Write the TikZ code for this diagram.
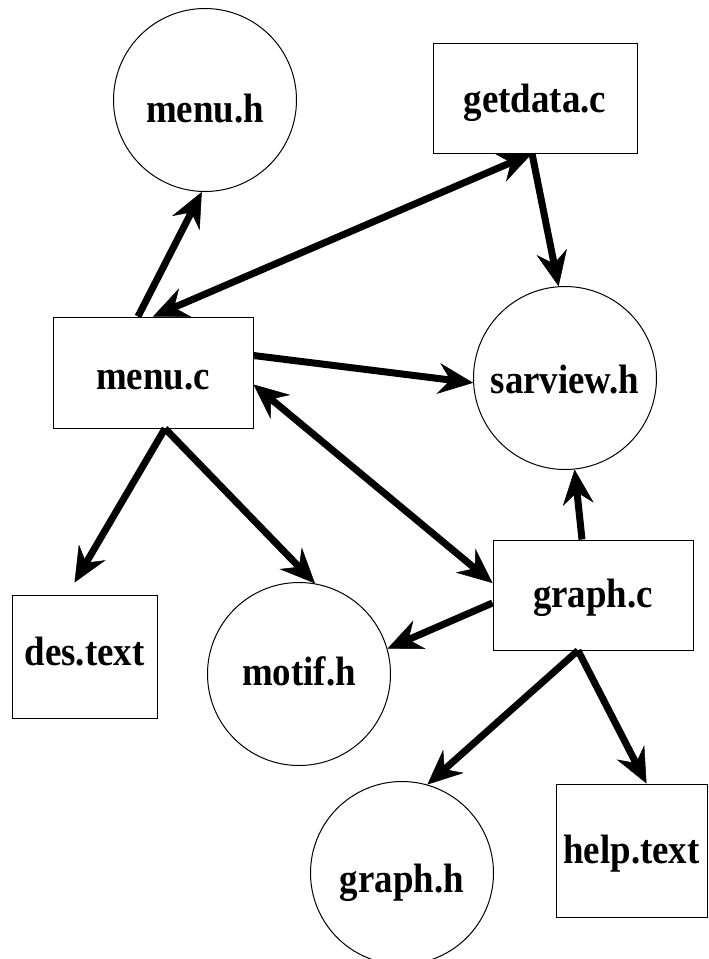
\documentclass[tikz,border=0pt]{standalone}
\usepackage{fontspec}
\setmainfont{Liberation Serif}
\newfontfamily\namefont{Liberation Serif}[FakeStretch=0.9]
\usetikzlibrary{arrows.meta}
\begin{document}
\begin{tikzpicture}[x=1pt,y=-1pt,
  >={Stealth[length=35pt,width=31pt,inset=12pt,line width=0.5pt]},
  srcfile/.style={draw, line width=1pt, rectangle, inner sep=0pt},
  hdrfile/.style={draw, line width=1pt, circle, inner sep=0pt, minimum size=183pt},
  lbl/.style={anchor=base, inner sep=0pt, font=\namefont\fontsize{41}{43}\selectfont\bfseries},
  dep/.style={line width=7pt, ->},
  mutual/.style={line width=7pt, <->}
]
\useasboundingbox (0,0) rectangle (709,959);

% files
\node[hdrfile] (menuh) at (205,100) {};
\node[srcfile, minimum width=204pt, minimum height=110pt] (getdata) at (535,98) {};
\node[srcfile, minimum width=200pt, minimum height=111pt] (menuc) at (153,372.5) {};
\node[hdrfile] (sarview) at (565,378) {};
\node[srcfile, minimum width=145pt, minimum height=123pt] (destext) at (84.5,656.5) {};
\node[hdrfile] (motif) at (299,674) {};
\node[srcfile, minimum width=200pt, minimum height=110pt] (graphc) at (593,595) {};
\node[hdrfile] (graphh) at (402,873) {};
\node[srcfile, minimum width=151pt, minimum height=133pt] (helptext) at (631.5,850.5) {};

% file names
\node[lbl] (menuh-t) at ([yshift=-22pt]menuh.center) {menu.h};
\node[lbl] (getdata-t) at ([yshift=-14pt]getdata.center) {getdata.c};
\node[lbl] (menuc-t) at ([yshift=-17pt]menuc.center) {menu.c};
\node[lbl] (sarview-t) at ([yshift=-15pt]sarview.center) {sarview.h};
\node[lbl] (destext-t) at ([yshift=-9pt]destext.center) {des.text};
\node[lbl] (motif-t) at ([yshift=-11pt]motif.center) {motif.h};
\node[lbl] (graphc-t) at ([yshift=-12pt]graphc.center) {graph.c};
\node[lbl] (graphh-t) at ([yshift=-19pt]graphh.center) {graph.h};
\node[lbl] (helptext-t) at ([yshift=-13pt]helptext.center) {help.text};

% dependencies
\draw[dep] ([xshift=-15pt]menuc.north) -- (menuh.-92);
\draw[mutual] (menuc.north) -- ([xshift=-3pt]getdata.south);
\draw[dep] ([xshift=-3pt]getdata.south) -- (sarview.94);
\draw[dep] ([yshift=17pt]menuc.east) -- (sarview.183);
\draw[mutual] ([yshift=-12pt]menuc.east) -- ([yshift=12pt]graphc.west);
\draw[dep] ([xshift=-11pt]graphc.north) -- (sarview.-84);
\draw[dep] ([xshift=12pt]menuc.south) -- ([xshift=-10pt,yshift=12pt]destext.north);
\draw[dep] ([xshift=12pt]menuc.south) -- (motif.80);
\draw[dep] ([yshift=-8pt]graphc.west) -- (motif.16);
\draw[dep] ([xshift=-15pt]graphc.south) -- (graphh.74);
\draw[dep] ([xshift=-15pt]graphc.south) -- ([xshift=15pt]helptext.north);
\end{tikzpicture}
\end{document}
